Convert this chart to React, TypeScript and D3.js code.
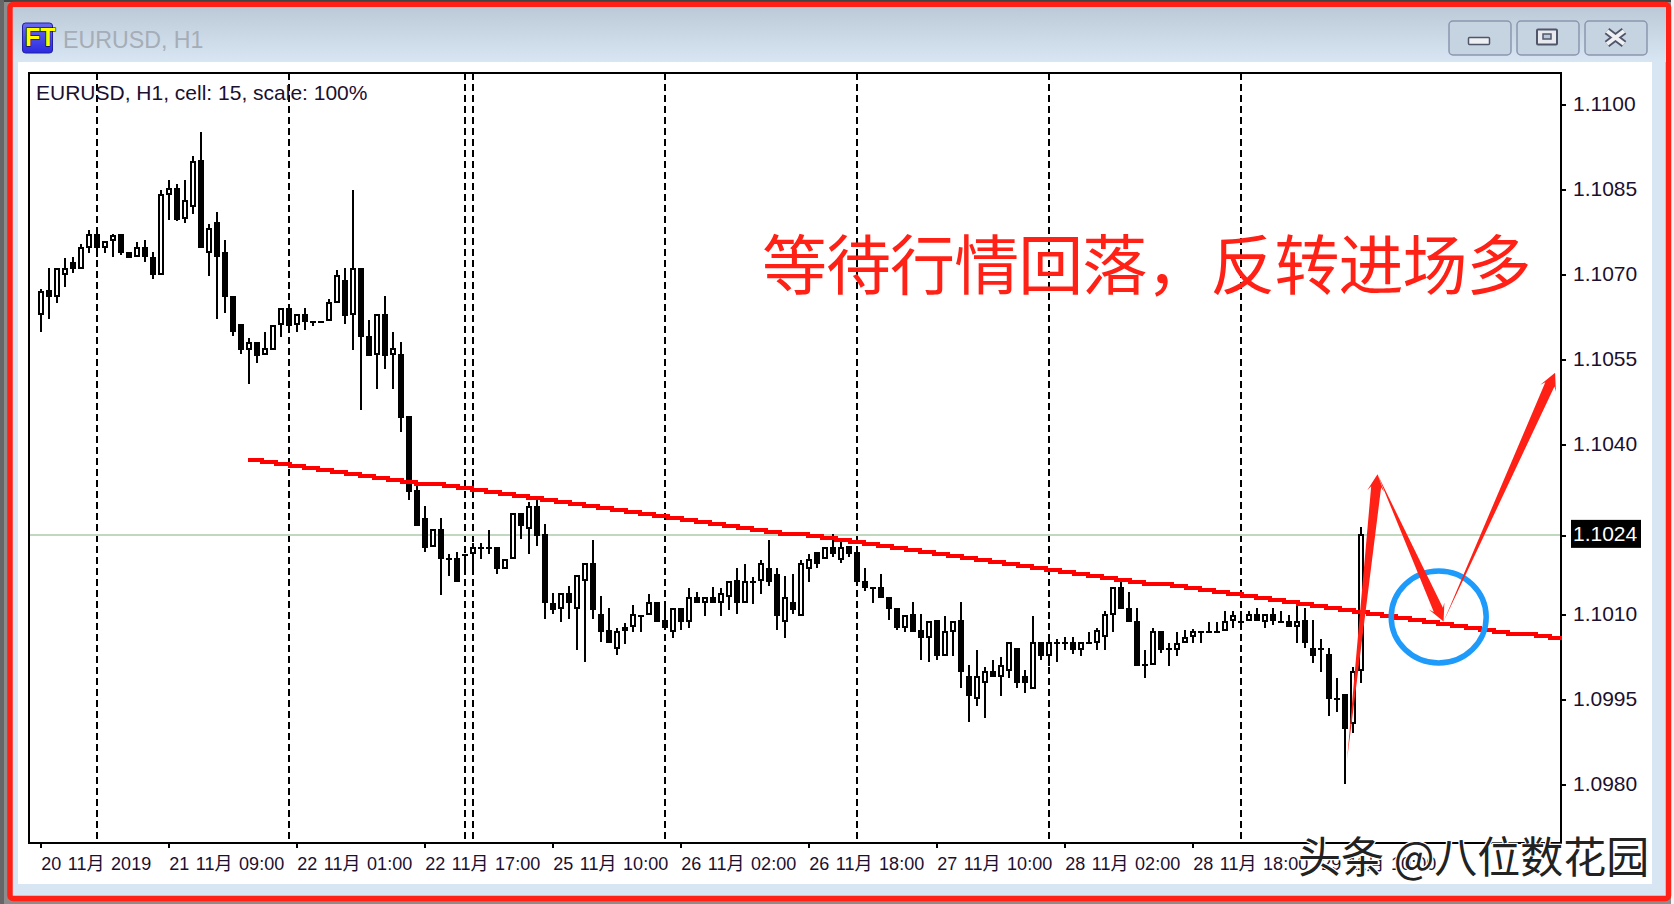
import React, { useEffect, useRef } from 'react';
import * as d3 from 'd3';

const width = 1674;
const height = 904;

// H1 candles, EURUSD
const opens = [
  1.10629, 1.10673, 1.1066, 1.107, 1.10722, 1.1071, 1.10748, 1.10771, 1.10748, 1.1076, 1.10771, 1.1074, 1.10731, 1.10749, 1.10732, 1.10699,
  1.10841, 1.10853, 1.10798, 1.10819, 1.10902, 1.10738, 1.10793, 1.1074, 1.10662, 1.10613, 1.10568, 1.10581, 1.10558, 1.10568, 1.10611, 1.10641,
  1.10611, 1.1063, 1.10619, 1.10619, 1.10618, 1.1065, 1.10691, 1.10629, 1.10711, 1.10592, 1.10558, 1.10631, 1.10558, 1.1056, 1.10451, 1.1032,
  1.1027, 1.10219, 1.10252, 1.102, 1.102, 1.10208, 1.10208, 1.1022, 1.1022, 1.1022, 1.1018, 1.10198, 1.1028, 1.10251, 1.10292, 1.10242,
  1.10121, 1.1011, 1.10139, 1.1011, 1.10159, 1.10192, 1.10101, 1.10073, 1.10039, 1.10072, 1.10078, 1.101, 1.10099, 1.10122, 1.10091, 1.1007,
  1.10111, 1.10088, 1.10132, 1.1012, 1.10132, 1.1012, 1.10131, 1.10161, 1.1012, 1.1016, 1.10159, 1.10182, 1.10171, 1.10088, 1.10122, 1.10098,
  1.1018, 1.1021, 1.10198, 1.1022, 1.10197, 1.10221, 1.1021, 1.1016, 1.10149, 1.10149, 1.10132, 1.10111, 1.10077, 1.10101, 1.10073, 1.10059,
  1.10091, 1.10028, 1.1007, 1.10091, 1.09991, 1.09951, 1.09979, 1.10001, 1.0999, 1.10001, 1.10041, 1.09991, 1.09969, 1.10051, 1.10028, 1.10051,
  1.10051, 1.10051, 1.10038, 1.10051, 1.1005, 1.1006, 1.101, 1.10149, 1.10111, 1.10089, 1.10013, 1.10011, 1.10072, 1.10041, 1.10038, 1.1005,
  1.1006, 1.10072, 1.10072, 1.10072, 1.10071, 1.10089, 1.10089, 1.10089, 1.10101, 1.10088, 1.10101, 1.10089, 1.10089, 1.10078, 1.10091, 1.10041,
  1.10041, 1.10031, 1.09953, 1.0996, 1.09908, 1.10001,
];
const highs = [
  1.10675, 1.10712, 1.10711, 1.10729, 1.10732, 1.10755, 1.10779, 1.10781, 1.1076, 1.10771, 1.10771, 1.1074, 1.10757, 1.10761, 1.1074, 1.10849,
  1.10867, 1.1086, 1.10867, 1.1091, 1.10952, 1.10789, 1.1081, 1.10761, 1.10662, 1.10613, 1.10588, 1.10581, 1.10599, 1.10612, 1.10641, 1.10641,
  1.1063, 1.10641, 1.10619, 1.10619, 1.10658, 1.10708, 1.10711, 1.10849, 1.10711, 1.1062, 1.1063, 1.10662, 1.10599, 1.10581, 1.10451, 1.10331,
  1.10292, 1.10252, 1.1027, 1.10207, 1.1021, 1.10208, 1.10226, 1.10227, 1.10249, 1.1022, 1.10199, 1.1028, 1.1028, 1.10299, 1.10302, 1.1026,
  1.10139, 1.10139, 1.10151, 1.1017, 1.10192, 1.10232, 1.10133, 1.10111, 1.10076, 1.10086, 1.10118, 1.101, 1.10136, 1.10122, 1.10111, 1.10111,
  1.10111, 1.10147, 1.1014, 1.10132, 1.10149, 1.10147, 1.1016, 1.10182, 1.10189, 1.10167, 1.10197, 1.10232, 1.10182, 1.10168, 1.10171, 1.10197,
  1.10207, 1.1021, 1.1022, 1.10242, 1.10229, 1.10221, 1.1021, 1.10182, 1.10149, 1.10171, 1.10132, 1.10111, 1.101, 1.10122, 1.10101, 1.10089,
  1.10091, 1.10098, 1.10089, 1.10122, 1.10012, 1.10038, 1.10008, 1.1002, 1.10026, 1.10051, 1.10041, 1.10002, 1.10098, 1.10051, 1.1006, 1.10058,
  1.10061, 1.10061, 1.10051, 1.1007, 1.10076, 1.10107, 1.10149, 1.10161, 1.1014, 1.10111, 1.10038, 1.10076, 1.10072, 1.1005, 1.10069, 1.10073,
  1.10075, 1.10072, 1.10087, 1.10087, 1.10107, 1.10107, 1.10107, 1.10107, 1.10111, 1.10101, 1.10111, 1.10107, 1.101, 1.1012, 1.10111, 1.10091,
  1.10058, 1.10041, 1.09988, 1.0996, 1.10008, 1.10255,
];
const lows = [
  1.10599, 1.10621, 1.1065, 1.10678, 1.10703, 1.1071, 1.10738, 1.10731, 1.10738, 1.10731, 1.10734, 1.1073, 1.10731, 1.10723, 1.10692, 1.10699,
  1.10797, 1.10794, 1.10791, 1.10808, 1.10748, 1.10698, 1.10621, 1.10632, 1.10592, 1.1056, 1.10508, 1.10544, 1.10558, 1.10568, 1.1059, 1.10602,
  1.10599, 1.10602, 1.1061, 1.10619, 1.10618, 1.1065, 1.10613, 1.10567, 1.10462, 1.10557, 1.10498, 1.10533, 1.10498, 1.10423, 1.10302, 1.10257,
  1.10211, 1.10219, 1.10134, 1.10168, 1.10158, 1.10179, 1.10179, 1.10198, 1.10208, 1.10172, 1.1018, 1.10198, 1.10233, 1.10208, 1.10222, 1.10092,
  1.10102, 1.10088, 1.10092, 1.10038, 1.10017, 1.10092, 1.10052, 1.1005, 1.10029, 1.10048, 1.1007, 1.1007, 1.10099, 1.10088, 1.10073, 1.10059,
  1.10073, 1.10077, 1.1012, 1.10098, 1.1012, 1.10098, 1.10108, 1.10101, 1.1012, 1.10119, 1.10137, 1.10151, 1.10073, 1.10059, 1.10101, 1.10098,
  1.10158, 1.10183, 1.10198, 1.10201, 1.10191, 1.10201, 1.10151, 1.10141, 1.1012, 1.1013, 1.10091, 1.10073, 1.1007, 1.1007, 1.1002, 1.10017,
  1.1002, 1.10028, 1.10028, 1.09971, 1.09911, 1.09939, 1.09918, 1.0999, 1.09957, 1.09989, 1.09971, 1.09961, 1.09969, 1.1002, 1.1001, 1.10017,
  1.10038, 1.10031, 1.10028, 1.10051, 1.10038, 1.10038, 1.1007, 1.1011, 1.10088, 1.1001, 1.09989, 1.10011, 1.10032, 1.1001, 1.10028, 1.1005,
  1.1005, 1.1005, 1.10072, 1.10072, 1.10071, 1.10077, 1.10077, 1.10089, 1.10089, 1.10077, 1.10081, 1.10089, 1.10078, 1.1005, 1.10042, 1.10014,
  1.09999, 1.09922, 1.09929, 1.09802, 1.09891, 1.09979,
];
const closes = [
  1.10672, 1.1066, 1.10711, 1.10712, 1.1071, 1.10749, 1.10771, 1.10748, 1.1076, 1.1077, 1.10738, 1.1073, 1.10749, 1.10731, 1.10699, 1.10842,
  1.10853, 1.10797, 1.10831, 1.10901, 1.10748, 1.10782, 1.10731, 1.1066, 1.10599, 1.10567, 1.10581, 1.10557, 1.1057, 1.10612, 1.10641, 1.1061,
  1.1063, 1.10617, 1.10619, 1.10619, 1.10651, 1.107, 1.10627, 1.10711, 1.1059, 1.10557, 1.1063, 1.10557, 1.1057, 1.10448, 1.10317, 1.10257,
  1.10217, 1.10252, 1.10198, 1.102, 1.10158, 1.10208, 1.10219, 1.1022, 1.1022, 1.1018, 1.10199, 1.1028, 1.10257, 1.10292, 1.10239, 1.1012,
  1.10108, 1.10139, 1.1012, 1.1017, 1.10192, 1.10108, 1.1007, 1.1005, 1.10072, 1.10079, 1.10101, 1.101, 1.10122, 1.10088, 1.10077, 1.10111,
  1.10088, 1.10132, 1.1012, 1.10132, 1.1012, 1.10139, 1.1016, 1.1012, 1.1016, 1.1016, 1.10192, 1.10158, 1.10098, 1.10132, 1.10108, 1.10192,
  1.10198, 1.10189, 1.1022, 1.10207, 1.1022, 1.10207, 1.10158, 1.10148, 1.10149, 1.1013, 1.1011, 1.10077, 1.101, 1.1007, 1.10059, 1.10089,
  1.10028, 1.10072, 1.10089, 1.09999, 1.09957, 1.09991, 1.10001, 1.0999, 1.10012, 1.10051, 1.09979, 1.09979, 1.10051, 1.10028, 1.10051, 1.10051,
  1.10051, 1.10038, 1.10051, 1.10051, 1.10073, 1.10101, 1.10149, 1.1011, 1.10088, 1.1001, 1.10013, 1.10072, 1.10038, 1.10041, 1.1005, 1.10061,
  1.10072, 1.10072, 1.10072, 1.10072, 1.10089, 1.101, 1.10089, 1.10101, 1.10089, 1.10101, 1.10089, 1.10089, 1.10078, 1.10089, 1.1005, 1.10028,
  1.10041, 1.09951, 1.09953, 1.09898, 1.10001, 1.10242,
];

// bar indexes of the dashed day separators
const daySeparators = [7, 31, 53, 54, 78, 102, 126, 150];

const priceTicks = [1.11, 1.1085, 1.107, 1.1055, 1.104, 1.1024, 1.101, 1.0995, 1.098];
const lastPrice = 1.1024;

const timeTickBars = [0, 16, 32, 48, 64, 80, 96, 112, 128, 144, 160];
const timeLabels = [
  '20 11月 2019',
  '21 11月 09:00',
  '22 11月 01:00',
  '22 11月 17:00',
  '25 11月 10:00',
  '26 11月 02:00',
  '26 11月 18:00',
  '27 11月 10:00',
  '28 11月 02:00',
  '28 11月 18:00',
  '29 11月 10:00',
];

// hand drawn annotations, in [bar, price]
const trendLine: [number, number][] = [[25.9, 1.10373], [189.9, 1.10055]];
const arrowUp: [number, number][] = [[163.3, 1.09845], [167.1, 1.10348]];
const arrowDown: [number, number][] = [[167.1, 1.10348], [175.36, 1.10088]];
const arrowOut: [number, number][] = [[175.36, 1.10088], [189.3, 1.10527]];
const circleCentre: [number, number] = [174.75, 1.10096];

const sans = '"Liberation Sans", Arial, sans-serif';
const cjk = '"Noto Sans CJK SC", "Noto Sans", sans-serif';

export default function App() {
  const svgRef = useRef<SVGSVGElement>(null);

  useEffect(() => {
    if (!svgRef.current) return;
    const svg = d3.select(svgRef.current);
    svg.selectAll('*').remove();

    const plotLeft = 29;
    const plotRight = 1561;
    const plotTop = 73;
    const plotBottom = 843;

    const x = d3.scaleLinear().domain([0, 165]).range([40.7, 1360.7]);
    const y = d3.scaleLinear().domain([1.098, 1.11]).range([784.7, 104.7]);

    // Window chrome
    const defs = svg.append('defs');
    const titleGrad = defs.append('linearGradient').attr('id', 'titleGrad').attr('x2', 0).attr('y2', 1);
    titleGrad.append('stop').attr('offset', 0).attr('stop-color', '#bccad8');
    titleGrad.append('stop').attr('offset', 1).attr('stop-color', '#d8e5f2');
    const iconGrad = defs.append('linearGradient').attr('id', 'iconGrad').attr('x2', 0).attr('y2', 1);
    iconGrad.append('stop').attr('offset', 0).attr('stop-color', '#6a6cf0');
    iconGrad.append('stop').attr('offset', 1).attr('stop-color', '#2a2ae0');

    svg.append('rect').attr('width', width).attr('height', height).attr('fill', '#8c8c8c');
    svg.append('rect').attr('x', 0).attr('y', 0).attr('width', width).attr('height', 2).attr('fill', '#444');
    svg.append('rect').attr('x', 0).attr('y', 0).attr('width', 4).attr('height', height).attr('fill', '#666');
    svg.append('rect').attr('x', 1671).attr('y', 0).attr('width', 3).attr('height', height).attr('fill', '#f4f4f4');
    svg.append('rect')
      .attr('x', 10).attr('y', 4.5)
      .attr('width', 1658.5).attr('height', 894)
      .attr('rx', 3)
      .attr('fill', '#d8e5f2')
      .attr('stroke', '#ff2116')
      .attr('stroke-width', 5.5);
    svg.append('rect').attr('x', 13).attr('y', 7).attr('width', 1653).attr('height', 55).attr('fill', 'url(#titleGrad)');
    svg.append('rect').attr('x', 18).attr('y', 62).attr('width', 1634).attr('height', 822).attr('fill', '#fff');

    const icon = svg.append('g');
    icon.append('rect').attr('x', 22.5).attr('y', 23).attr('width', 30).attr('height', 30).attr('rx', 3).attr('fill', 'url(#iconGrad)').attr('stroke', '#2020a0');
    icon.append('text').attr('x', 25).attr('y', 46)
      .style('font', `bold 25px ${sans}`)
      .attr('fill', '#ffff00').attr('stroke', '#000').attr('stroke-width', 1.2)
      .style('paint-order', 'stroke')
      .text('FT');

    svg.append('text').attr('x', 63).attr('y', 48)
      .style('font', `23.2px ${sans}`)
      .attr('fill', '#a5adb6')
      .text('EURUSD, H1');

    // Min / max / close buttons
    const buttons = [1449, 1517, 1585];
    svg.append('g').selectAll('rect').data(buttons).join('rect')
      .attr('x', d => d).attr('y', 21).attr('width', 62).attr('height', 34).attr('rx', 4)
      .attr('fill', '#c6d3e1').attr('stroke', '#8a96ae').attr('stroke-width', 1.5);
    svg.append('rect').attr('x', 1468.5).attr('y', 37.5).attr('width', 21).attr('height', 7).attr('rx', 1)
      .attr('fill', '#eef0f4').attr('stroke', '#50566a').attr('stroke-width', 1.5);
    svg.append('rect').attr('x', 1537).attr('y', 29.5).attr('width', 20).attr('height', 15).attr('rx', 1)
      .attr('fill', '#e8eaf0').attr('stroke', '#50566a').attr('stroke-width', 2);
    svg.append('rect').attr('x', 1543).attr('y', 34).attr('width', 8).attr('height', 5)
      .attr('fill', '#b8c8dc').attr('stroke', '#50566a').attr('stroke-width', 1.5);
    const cross = 'M1607,31L1624,44M1624,31L1607,44';
    svg.append('path').attr('d', cross).attr('stroke', '#50566a').attr('stroke-width', 7.5).attr('fill', 'none');
    svg.append('path').attr('d', cross).attr('stroke', '#eef0f4').attr('stroke-width', 4).attr('fill', 'none');

    // Day separators
    svg.append('g').selectAll('line').data(daySeparators).join('line')
      .attr('x1', d => x(d)).attr('x2', d => x(d))
      .attr('y1', plotTop).attr('y2', plotBottom)
      .attr('stroke', '#000')
      .attr('stroke-width', 2)
      .attr('stroke-dasharray', '7 4')
      .attr('shape-rendering', 'crispEdges');

    // Current price line
    svg.append('line')
      .attr('x1', plotLeft).attr('x2', plotRight)
      .attr('y1', y(lastPrice)).attr('y2', y(lastPrice))
      .attr('stroke', '#c0d8c0')
      .attr('stroke-width', 2)
      .attr('shape-rendering', 'crispEdges');

    // Candles
    const bars = d3.range(opens.length);
    const bodyW = 6;
    const candles = svg.append('g').attr('shape-rendering', 'crispEdges');
    candles.selectAll('line').data(bars).join('line')
      .attr('x1', i => x(i)).attr('x2', i => x(i))
      .attr('y1', i => y(highs[i])).attr('y2', i => y(lows[i]))
      .attr('stroke', '#000')
      .attr('stroke-width', 2);
    candles.selectAll('rect').data(bars).join('rect')
      .attr('x', i => (closes[i] > opens[i] ? x(i) - bodyW / 2 + 1 : x(i) - bodyW / 2))
      .attr('y', i => (closes[i] > opens[i] ? y(closes[i]) + 1 : y(Math.max(opens[i], closes[i]))))
      .attr('width', i => (closes[i] > opens[i] ? bodyW - 2 : bodyW))
      .attr('height', i => {
        const h = Math.abs(y(opens[i]) - y(closes[i]));
        return closes[i] > opens[i] ? Math.max(h - 2, 0) : Math.max(h, 2);
      })
      .attr('fill', i => (closes[i] > opens[i] ? '#fff' : '#000'))
      .attr('stroke', i => (closes[i] > opens[i] ? '#000' : 'none'))
      .attr('stroke-width', 2);

    // Frame and axes
    svg.append('rect')
      .attr('x', plotLeft).attr('y', plotTop)
      .attr('width', plotRight - plotLeft).attr('height', plotBottom - plotTop)
      .attr('fill', 'none')
      .attr('stroke', '#000')
      .attr('stroke-width', 2)
      .attr('shape-rendering', 'crispEdges');

    const yAxis = svg.append('g')
      .attr('transform', `translate(${plotRight},0)`)
      .call(d3.axisRight(y).tickValues(priceTicks).tickFormat(d3.format('.4f')).tickSize(5).tickPadding(7));
    yAxis.select('.domain').remove();
    yAxis.selectAll('line').attr('stroke', '#000').attr('stroke-width', 2).attr('shape-rendering', 'crispEdges');
    yAxis.selectAll('text')
      .attr('dy', '0.26em')
      .style('font', `21px ${sans}`)
      .attr('fill', '#1a1030');

    const xAxis = svg.append('g')
      .attr('transform', `translate(0,${plotBottom})`)
      .call(d3.axisBottom(x).tickValues(timeTickBars).tickFormat((_, i) => timeLabels[i]).tickSize(5));
    xAxis.select('.domain').remove();
    xAxis.selectAll('line').attr('stroke', '#000').attr('stroke-width', 2).attr('shape-rendering', 'crispEdges');
    xAxis.selectAll('text')
      .attr('y', 27)
      .attr('dy', 0)
      .attr('text-anchor', 'start')
      .style('font', `18px ${sans}, ${cjk}`)
      .style('word-spacing', '1.6px')
      .attr('fill', '#1a1030');

    // Price tag
    svg.append('rect')
      .attr('x', 1571).attr('y', y(lastPrice) - 15.5)
      .attr('width', 70).attr('height', 28)
      .attr('fill', '#000');
    svg.append('text')
      .attr('x', 1573).attr('y', y(lastPrice) + 6)
      .style('font', `21px ${sans}`)
      .attr('fill', '#fff')
      .text('1.1024');

    svg.append('text')
      .attr('x', 36).attr('y', 99.5)
      .style('font', `21px ${sans}`)
      .attr('fill', '#1a1030')
      .text('EURUSD, H1, cell: 15, scale: 100%');

    // Trend line, stepped like the un-smoothed original
    const trendStart = x(trendLine[0][0]);
    const trendEnd = x(trendLine[1][0]);
    const trendY = d3.scaleLinear().domain([trendStart, trendEnd]).range([y(trendLine[0][1]), y(trendLine[1][1])]);
    const steps = [...d3.range(trendStart, trendEnd, 14), trendEnd];
    svg.append('path')
      .attr('d', d3.line<number>().x(d => d).y(d => Math.round(trendY(d) / 2) * 2).curve(d3.curveStepAfter)(steps))
      .attr('fill', 'none')
      .attr('stroke', '#ff0000')
      .attr('stroke-width', 4)
      .attr('shape-rendering', 'crispEdges');

    // Blue circle
    svg.append('ellipse')
      .attr('cx', x(circleCentre[0])).attr('cy', y(circleCentre[1]))
      .attr('rx', 47.5).attr('ry', 46)
      .attr('fill', 'none')
      .attr('stroke', '#1e9bfa')
      .attr('stroke-width', 5.5);

    // Tapered arrows: zero width at the tail, head swept back at the tip
    const arrowPath = (pts: [number, number][], shaft: number, headLen: number, headHalf: number) => {
      const [x0, y0] = [x(pts[0][0]), y(pts[0][1])];
      const [x1, y1] = [x(pts[1][0]), y(pts[1][1])];
      const len = Math.hypot(x1 - x0, y1 - y0);
      const ux = (x1 - x0) / len;
      const uy = (y1 - y0) / len;
      const at = (along: number, side: number) =>
        [x1 - ux * along - uy * side, y1 - uy * along + ux * side] as [number, number];
      return d3.line()([
        [x0, y0],
        at(headLen * 0.75, shaft / 2),
        at(headLen, headHalf),
        [x1, y1],
        at(headLen, -headHalf),
        at(headLen * 0.75, -shaft / 2),
      ]) + 'Z';
    };
    svg.append('g').selectAll('path')
      .data([arrowUp, arrowDown, arrowOut])
      .join('path')
      .attr('d', d => arrowPath(d, 10, 17, 8.5))
      .attr('fill', '#ff2116');

    // Big caption
    svg.append('text')
      .attr('x', 762).attr('y', 288.5)
      .style('font', `65px ${cjk}`)
      .style('letter-spacing', '-0.95px')
      .attr('fill', '#ff2116')
      .text('等待行情回落，反转进场多');

    // Watermark
    svg.append('text')
      .attr('x', 1298).attr('y', 873)
      .style('font', `43px ${cjk}`)
      .attr('fill', '#222')
      .attr('stroke', '#fff')
      .attr('stroke-width', 2.5)
      .style('paint-order', 'stroke')
      .text('头条 @八位数花园');
  }, []);

  return (
    <svg
      ref={svgRef}
      width={width}
      height={height}
      style={{ position: 'absolute', left: 0, top: 0 }}
    />
  );
}
